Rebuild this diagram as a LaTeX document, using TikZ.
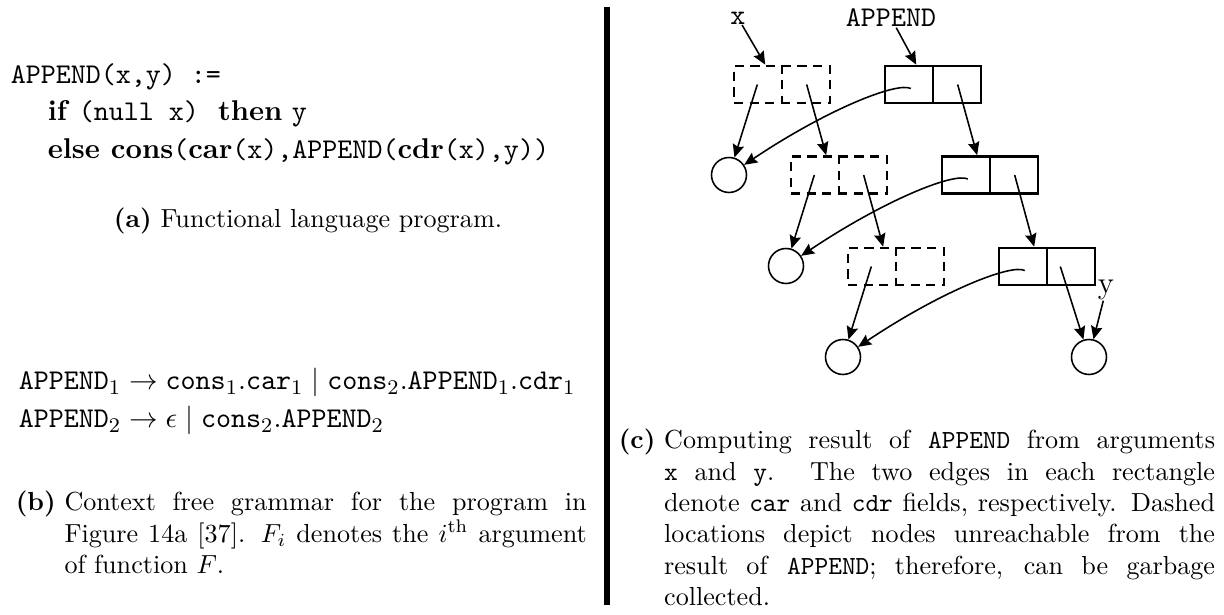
\documentclass[tikz,border=0pt]{standalone}
\usetikzlibrary{arrows.meta,calc}
\begin{document}
\begin{tikzpicture}[->,>={Stealth[length=5pt,width=4.4pt,inset=0.7pt]},x=0.383pt,y=-0.383pt,line width=0.6pt,
  pair box/.style={draw,rectangle,line width=1pt,minimum width=36.8pt,minimum height=14.2pt,inner sep=0pt},
  gone/.style={dash pattern=on 3.5pt off 2.5pt},
  atom node/.style={circle,draw,minimum size=13.4pt,inner sep=0pt},
  code/.style={font=\fontsize{10.95}{13.6}\selectfont,anchor=base west,inner sep=0pt},
  lbl/.style={font=\fontsize{10.95}{13.6}\selectfont,inner sep=0pt},
  capt/.style={font=\fontsize{10}{12}\selectfont,inner sep=0pt,anchor=base west}]
\useasboundingbox (0,0) rectangle (1224,615);
% (a) program
\node[code] (line1) at (10,84) {\texttt{APPEND(x,y) :=}};
\node[code] (line2) at (47,121) {\textbf{if} \texttt{(null x)}\ \ \textbf{then} \texttt{y}};
\node[code] (line3) at (47,159) {\textbf{else cons}\texttt{(}\textbf{car}\texttt{(x),APPEND(}\textbf{cdr}\texttt{(x),y))}};
\node[capt,anchor=base] (capa) at (308,228) {\textbf{(a)} Functional language program.};
% (b) grammar
\node[code] (gram1) at (18,390) {$\mathtt{APPEND}_1 \rightarrow \mathtt{cons}_1.\mathtt{car}_1 \mid \mathtt{cons}_2.\mathtt{APPEND}_1.\mathtt{cdr}_1$};
\node[code] (gram2) at (18,428) {$\mathtt{APPEND}_2 \rightarrow \epsilon \mid \mathtt{cons}_2.\mathtt{APPEND}_2$};
\node[capt] (capb) at (15,511) {\textbf{(b)}\ \parbox[t]{200pt}{Context free grammar for the program in\linebreak Figure 14a [37]. $F_i$ denotes the $i^{\mathrm{th}}$ argument\linebreak of function $F$.}};
\draw[-,line width=2pt] (607,7) -- (607,605);
% (c) cells
\node[pair box,gone] (d1) at (782,84.5) {};
\node[pair box] (s1) at (933,84.5) {};
\node[pair box,gone] (d2) at (839,175) {};
\node[pair box] (s2) at (990,175) {};
\node[pair box,gone] (d3) at (896,266.5) {};
\node[pair box] (s3) at (1047,266.5) {};
\draw[-,gone,line width=1pt] (d1.north) -- (d1.south);
\draw[-,gone,line width=1pt] (d2.north) -- (d2.south);
\draw[-,gone,line width=1pt] (d3.north) -- (d3.south);
\draw[-,line width=1pt] (s1.north) -- (s1.south);
\draw[-,line width=1pt] (s2.north) -- (s2.south);
\draw[-,line width=1pt] (s3.north) -- (s3.south);
\node[atom node] (c1) at (729,175) {};
\node[atom node] (c2) at (786,266) {};
\node[atom node] (c3) at (843,357) {};
\node[atom node] (c4) at (1089,357) {};
\node[lbl,font=\ttfamily\fontsize{10.95}{13.6}\selectfont] (xlbl) at (738,18) {x};
\node[lbl,font=\ttfamily\fontsize{10.95}{13.6}\selectfont] (appendlbl) at (891,18) {APPEND};
\node[lbl,font=\fontsize{12}{14}\selectfont] (ylbl) at (1106,290) {y};
\draw (xlbl) -- ($(d1.north west)!.33!(d1.north east)$);
\draw (appendlbl) -- ($(s1.north west)!.33!(s1.north east)$);
\draw ($(d1.center)!.5!(d1.west)$) -- (c1);
\draw ($(d1.center)!.5!(d1.east)$) -- ($(d2.north west)!.37!(d2.north east)$);
\draw ($(s1.center)!.45!(s1.west)+(0,4)$) .. controls +(-14,-7) and +(97,-65) .. (c1);
\draw ($(s1.center)!.5!(s1.east)$) -- ($(s2.north west)!.37!(s2.north east)$);
\draw ($(d2.center)!.5!(d2.west)$) -- (c2);
\draw ($(d2.center)!.5!(d2.east)$) -- ($(d3.north west)!.37!(d3.north east)$);
\draw ($(s2.center)!.45!(s2.west)+(0,4)$) .. controls +(-14,-7) and +(97,-65) .. (c2);
\draw ($(s2.center)!.5!(s2.east)$) -- ($(s3.north west)!.37!(s3.north east)$);
\draw ($(d3.center)!.5!(d3.west)$) -- (c3);
\draw ($(s3.center)!.45!(s3.west)+(0,4)$) .. controls +(-14,-7) and +(97,-65) .. (c3);
\draw ($(s3.center)!.27!(s3.east)$) -- (c4);
\draw (ylbl) -- (c4);
\node[capt] (capc) at (618,449) {\textbf{(c)}\ \parbox[t]{211pt}{Computing result of \texttt{APPEND} from arguments\linebreak \texttt{x} and \texttt{y}. The two edges in each rectangle\linebreak denote \texttt{car} and \texttt{cdr} fields, respectively. Dashed\linebreak locations depict nodes unreachable from the\linebreak result of \texttt{APPEND}; therefore, can be garbage\linebreak collected.}};
\end{tikzpicture}
\end{document}
